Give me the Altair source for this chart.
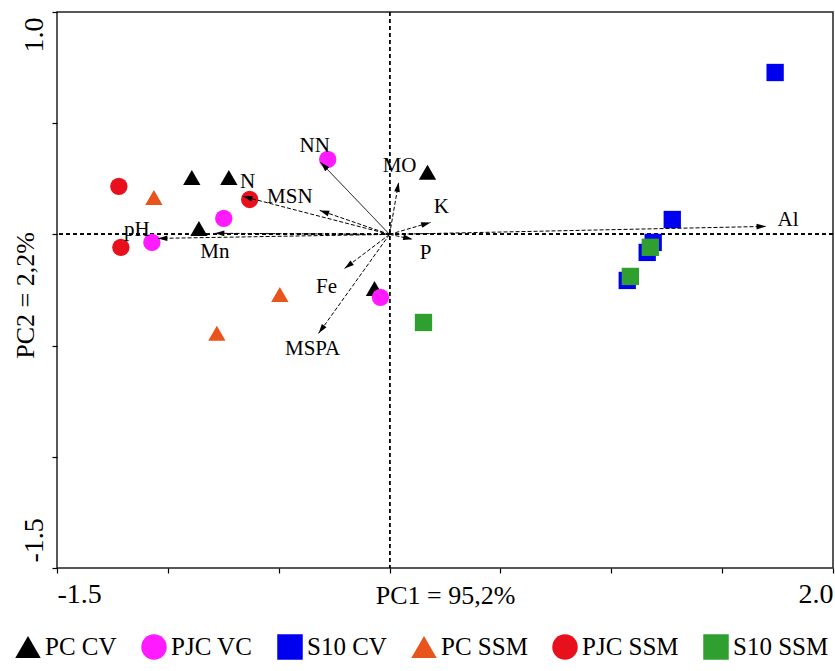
import altair as alt
import pandas as pd

FONT = "Liberation Serif"

# ---- sample groups -------------------------------------------------------
groups = ["PC CV", "PJC VC", "S10 CV", "PC SSM", "PJC SSM", "S10 SSM"]
colors = ["#000000", "#ff1aff", "#0000f0", "#e8541c", "#e8101c", "#2fa02f"]
shapes = ["triangle-up", "circle", "square", "triangle-up", "circle", "square"]

pc_cv_x = [-0.892, -0.725, -0.860, 0.171, -0.068]
pc_cv_y = [0.256, 0.256, 0.027, 0.279, -0.243]
pjc_vc_x = [-0.279, -0.748, -1.072, -0.041]
pjc_vc_y = [0.337, 0.072, -0.036, -0.283]
s10_cv_x = [1.739, 1.275, 1.189, 1.162, 1.072]
s10_cv_y = [0.728, 0.067, -0.036, -0.081, -0.207]
pc_ssm_x = [-1.063, -0.495, -0.779]
pc_ssm_y = [0.166, -0.270, -0.445]
pjc_ssm_x = [-1.221, -1.212, -0.631]
pjc_ssm_y = [0.216, -0.058, 0.157]
s10_ssm_x = [1.176, 1.086, 0.153]
s10_ssm_y = [-0.058, -0.189, -0.396]

# ---- variable vectors ----------------------------------------------------
vec_names = ["pH", "Mn", "N", "MSN", "NN", "MO", "K", "P", "Al", "Fe", "MSPA"]
vec_x = [-1.045, -0.788, -0.662, -0.315, -0.311, 0.041, 0.185, 0.104, 1.698, -0.203, -0.320]
vec_y = [-0.018, 0.005, 0.171, 0.108, 0.324, 0.234, 0.054, -0.022, 0.036, -0.153, -0.445]
lab_x = [-1.14, -0.788, -0.640, -0.450, -0.338, 0.045, 0.234, 0.162, 1.797, -0.284, -0.347]
lab_y = [0.018, -0.081, 0.234, 0.166, 0.396, 0.306, 0.121, -0.085, 0.063, -0.238, -0.517]

# ---- axes ----------------------------------------------------------------
x_ticks = [-1.5, -1.0, -0.5, 0.0, 0.5, 1.0, 1.5, 2.0]
y_ticks = [-1.5, -1.0, -0.5, 0.0, 0.5, 1.0]
x_label_vals = [-1.5, 2.0]
x_label_txt = ["-1.5", "2.0"]
y_label_vals = [-1.5, 1.0]
y_label_txt = ["-1.5", "1.0"]
x_title = "PC1 = 95,2%"
y_title = "PC2 = 2,2%"


def label_expr(vals, txts):
    expr = "''"
    for v, t in zip(vals, txts):
        expr = f"datum.value == {v} ? '{t}' : ({expr})"
    return expr


series = [
    (pc_cv_x, pc_cv_y), (pjc_vc_x, pjc_vc_y), (s10_cv_x, s10_cv_y),
    (pc_ssm_x, pc_ssm_y), (pjc_ssm_x, pjc_ssm_y), (s10_ssm_x, s10_ssm_y),
]
rows = []
for g, (xs, ys) in zip(groups, series):
    for a, b in zip(xs, ys):
        rows.append({"grupo": g, "x": a, "y": b})
pts = pd.DataFrame(rows)

vec = pd.DataFrame({"name": vec_names, "x": vec_x, "y": vec_y, "lx": lab_x, "ly": lab_y})

xscale = alt.Scale(domain=[-1.5, 2.0], nice=False, zero=False)
yscale = alt.Scale(domain=[-1.5, 1.0], nice=False, zero=False)

xaxis = alt.Axis(
    values=x_ticks, labelExpr=label_expr(x_label_vals, x_label_txt),
    labelFlush=True, labelOverlap=False, labelFont=FONT, labelFontSize=28,
    labelColor="black", labelBaseline="alphabetic", labelPadding=29,
    tickSize=5, tickColor="black", tickWidth=1.2, domain=False, grid=False,
    title=x_title, titleFont=FONT, titleFontSize=26, titleFontWeight="normal",
    titleColor="black", titleBaseline="alphabetic", titleY=35,
)
yaxis = alt.Axis(
    values=y_ticks, labelExpr=label_expr(y_label_vals, y_label_txt),
    labelOverlap=False, labelFont=FONT, labelFontSize=28, labelColor="black",
    labelAngle=270, labelBaseline="alphabetic", labelPadding=10,
    labelAlign={"condition": {"test": "datum.value > 0", "value": "right"}, "value": "left"},
    labelOffset={"condition": {"test": "datum.value > 0", "value": 5}, "value": -6},
    tickSize=5, tickColor="black", tickWidth=1.2, domain=False, grid=False,
    title=y_title, titleFont=FONT, titleFontSize=26, titleFontWeight="normal",
    titleColor="black", titleAngle=270, titleBaseline="alphabetic",
    titleAlign="center", titleX=-24, titleY=283,
)

legend = alt.Legend(
    orient="none", legendX=-42, legendY=622, direction="horizontal", columns=6,
    title=None, symbolSize=650, labelFont=FONT, labelFontSize=25,
    labelColor="black", labelOffset=4, columnPadding=24, symbolStrokeWidth=0,
    padding=0, labelBaseline="middle", symbolOpacity=1,
)

ref_v = alt.Chart(pts).mark_rule(color="black", strokeWidth=1, strokeDash=[4, 3]).encode(
    x=alt.X(datum=0, scale=xscale, axis=xaxis)
)
ref_h = alt.Chart(pts).mark_rule(color="black", strokeWidth=1, strokeDash=[4, 3]).encode(
    y=alt.Y(datum=0, scale=yscale, axis=yaxis)
)

points = alt.Chart(pts).mark_point(filled=True, size=300, opacity=1).encode(
    x=alt.X("x:Q", scale=xscale, axis=xaxis),
    y=alt.Y("y:Q", scale=yscale, axis=yaxis),
    color=alt.Color("grupo:N", scale=alt.Scale(domain=groups, range=colors), legend=legend),
    shape=alt.Shape("grupo:N", scale=alt.Scale(domain=groups, range=shapes), legend=legend),
)

vec_lines = alt.Chart(vec).transform_calculate(x0="0", y0="0").mark_rule(
    color="black", strokeWidth=1
).encode(
    x=alt.X("x0:Q", scale=xscale),
    y=alt.Y("y0:Q", scale=yscale),
    x2="x:Q",
    y2="y:Q",
    strokeDash=alt.condition(alt.datum.name == "NN", alt.value([1, 0]), alt.value([4, 2])),
)

heads = alt.Chart(vec).transform_calculate(
    ang="(atan2(datum.x, datum.y) * 180 / PI + 360) % 360"
).mark_point(shape="M0,0L0.6,2L-0.6,2Z", size=90, filled=True, color="black", opacity=1).encode(
    x=alt.X("x:Q", scale=xscale),
    y=alt.Y("y:Q", scale=yscale),
    angle=alt.Angle("ang:Q", scale=None),
)

labels = alt.Chart(vec).mark_text(
    font=FONT, fontSize=21, color="black", align="center", baseline="middle"
).encode(
    x=alt.X("lx:Q", scale=xscale),
    y=alt.Y("ly:Q", scale=yscale),
    text="name:N",
)

chart = alt.layer(ref_v, ref_h, points, vec_lines, heads, labels).properties(
    width=776, height=556,
    autosize=alt.AutoSizeParams(type="none"),
    padding={"left": 57, "top": 12, "right": 2, "bottom": 103},
    background="white",
).configure_view(stroke="#222222", strokeWidth=1.5)

chart.save("out.html", embed_options={"renderer": "svg", "actions": False})
